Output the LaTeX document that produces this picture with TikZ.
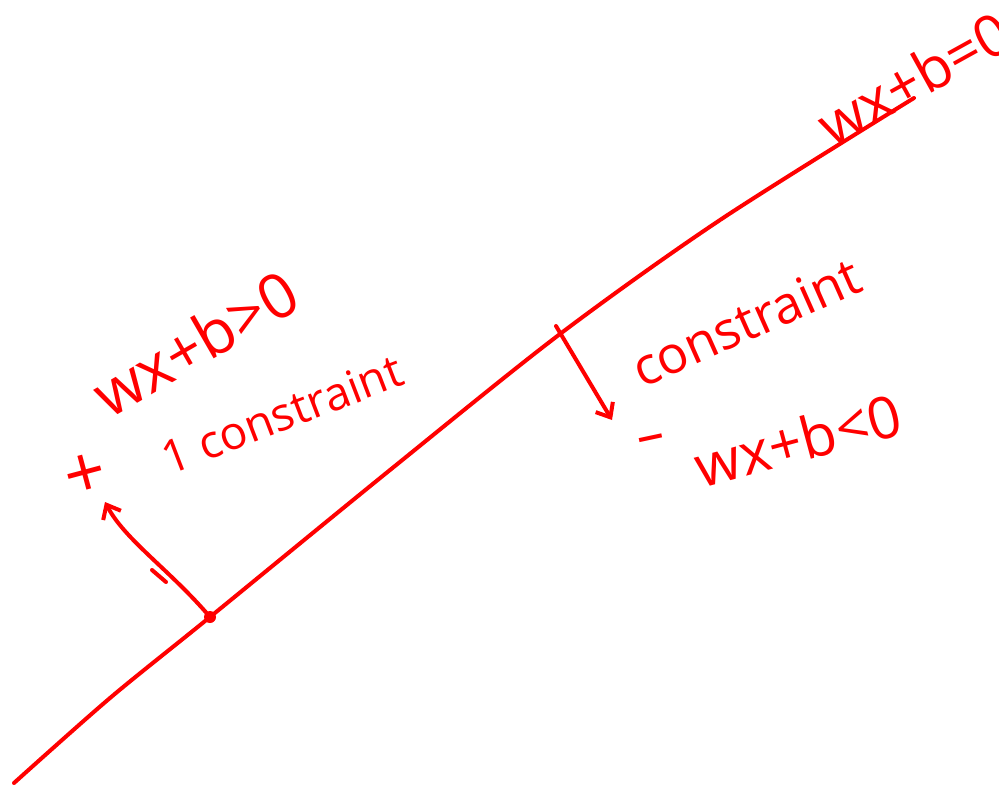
\documentclass[tikz,border=0pt]{standalone}
\usepackage{fontspec}
\setmainfont{Open Sans}
\usetikzlibrary{arrows.meta}
\begin{document}
\begin{tikzpicture}[x=1pt,y=-1pt,
  ink/.style={draw=red, line width=4pt, line cap=round, line join=round},
  hw/.style={text=red, inner sep=0pt, anchor=center},
  tip/.style={-{Straight Barb[length=12pt,width=20pt,line width=4pt]}}]
\useasboundingbox (0,0) rectangle (999,788);
% decision boundary
\coordinate (a0) at (14,783);
\coordinate (a1) at (110,698);
\coordinate (dotL) at (210,617);
\coordinate (a3) at (390,470);
\coordinate (footR) at (560,334);
\coordinate (a5) at (720,220);
\coordinate (a6) at (914,98);
\draw[ink] plot[smooth, tension=0.5] coordinates {(a0) (a1) (dotL) (a3) (footR) (a5) (a6)};
\fill[red] (dotL) circle (6pt);
% labels
\node[hw, rotate=29, font=\fontsize{58}{58}\selectfont] (eq0) at (914,78) {wx+b=0};
\node[hw, rotate=30, font=\fontsize{62}{62}\selectfont] (gt) at (195,343) {wx+b>0};
\node[hw, rotate=21, font=\fontsize{46}{46}\selectfont] (c1) at (282,414) {1 constraint};
\node[hw, rotate=24, font=\fontsize{52}{52}\selectfont] (c2) at (746,322) {constraint};
\node[hw, rotate=15, font=\fontsize{58}{58}\selectfont] (lt) at (798,440) {wx+b<0};
\node[hw, rotate=12, font=\fontsize{55}{55}\selectfont] (minus) at (652,444) {–};
\node[hw, rotate=15, font=\fontsize{72}{72}\selectfont] (plus) at (86,476) {+};
% arrows
\coordinate (tipL) at (105,502);
\coordinate (startR) at (556,326);
\coordinate (tipR) at (612,420);
\draw[ink, tip] (dotL) .. controls (170,570) and (125,540) .. (tipL);
\draw[ink] (152,570) -- (166,582);
\draw[ink, tip] (startR) -- (tipR);
\end{tikzpicture}
\end{document}
